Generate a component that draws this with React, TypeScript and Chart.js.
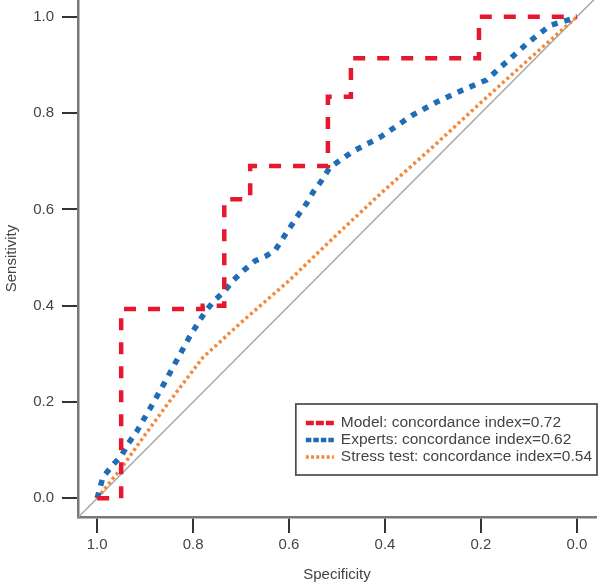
import React, { useEffect, useRef } from 'react';
import { Chart, registerables } from 'chart.js';

Chart.register(...registerables);

// ---- data ----
const tickValues = [0, 0.2, 0.4, 0.6, 0.8, 1.0];

const seriesLabels = [
  'Model: concordance index=0.72',
  'Experts: concordance index=0.62',
  'Stress test: concordance index=0.54',
];

const modelSpec = [1.0, 0.95, 0.95, 0.78, 0.78, 0.735, 0.735, 0.681, 0.681, 0.519, 0.519, 0.471, 0.471, 0.204, 0.204, 0.0];
const modelSens = [0.0, 0.0, 0.393, 0.393, 0.4, 0.4, 0.621, 0.621, 0.69, 0.69, 0.834, 0.834, 0.914, 0.914, 1.0, 1.0];

const expertsSpec = [1.0, 0.988, 0.97, 0.949, 0.935, 0.918, 0.89, 0.86, 0.806, 0.775, 0.758, 0.733, 0.716, 0.695, 0.671, 0.65, 0.629, 0.612, 0.581, 0.563, 0.549, 0.532, 0.515, 0.466, 0.41, 0.344, 0.292, 0.24, 0.188, 0.146, 0.101, 0.056, 0.011, 0.0];
const expertsSens = [0.0, 0.044, 0.066, 0.089, 0.114, 0.138, 0.186, 0.239, 0.338, 0.387, 0.408, 0.432, 0.453, 0.473, 0.493, 0.502, 0.515, 0.541, 0.588, 0.613, 0.637, 0.66, 0.687, 0.721, 0.75, 0.795, 0.823, 0.847, 0.869, 0.907, 0.947, 0.982, 0.996, 1.0];

const stressSpec = [1.0, 0.95, 0.9, 0.85, 0.78, 0.7, 0.6, 0.5, 0.41, 0.3, 0.2, 0.1, 0.0];
const stressSens = [0.0, 0.062, 0.132, 0.2, 0.292, 0.365, 0.452, 0.548, 0.632, 0.73, 0.822, 0.912, 1.0];

const refSpec = [1.04, -0.04];
const refSens = [-0.04, 1.04];

const toPoints = (xs: number[], ys: number[]) => xs.map((x, i) => ({ x, y: ys[i] }));

const FONT = '"Liberation Sans", Arial, Helvetica, sans-serif';
const TEXT = '#444444';

const styles = [
  { color: '#e5182f', width: 4.5, dash: [12, 12], legendDash: [8, 2], legendWidth: 4.5 },
  { color: '#1f6db5', width: 5.5, dash: [6, 7], legendDash: [5.5, 2], legendWidth: 4.5 },
  { color: '#f28a3c', width: 3.5, dash: [3, 3], legendDash: [3, 2.2], legendWidth: 3.5 },
];

const legendPlugin = {
  id: 'rocLegend',
  afterDraw(chart: any) {
    const { ctx, chartArea } = chart;
    ctx.save();
    ctx.font = `15.5px ${FONT}`;
    const maxW = Math.max(...seriesLabels.map((t) => ctx.measureText(t).width));
    const boxW = 10 + 28 + 7 + maxW + 5;
    const boxH = 71;
    const right = chartArea.right + 1;
    const bottom = chartArea.bottom - 42;
    const left = right - boxW;
    const top = bottom - boxH;
    ctx.fillStyle = '#ffffff';
    ctx.fillRect(left, top, boxW, boxH);
    ctx.strokeStyle = '#4a4a4a';
    ctx.lineWidth = 1.7;
    ctx.strokeRect(left, top, boxW, boxH);
    seriesLabels.forEach((label, i) => {
      const y = top + 19 + i * 17;
      const st = styles[i];
      ctx.beginPath();
      ctx.setLineDash(st.legendDash);
      ctx.strokeStyle = st.color;
      ctx.lineWidth = st.legendWidth;
      ctx.moveTo(left + 10, y);
      ctx.lineTo(left + 38, y);
      ctx.stroke();
      ctx.setLineDash([]);
      ctx.fillStyle = TEXT;
      ctx.textAlign = 'left';
      ctx.textBaseline = 'middle';
      ctx.fillText(label, left + 45, y);
    });
    ctx.restore();
  },
};

export default function App() {
  const ref = useRef<HTMLCanvasElement | null>(null);

  useEffect(() => {
    if (!ref.current) return;
    Chart.defaults.font.family = FONT;
    const series = [
      toPoints(modelSpec, modelSens),
      toPoints(expertsSpec, expertsSens),
      toPoints(stressSpec, stressSens),
    ];
    const datasets: any[] = series.map((data, i) => ({
      label: seriesLabels[i],
      data,
      borderColor: styles[i].color,
      backgroundColor: styles[i].color,
      borderWidth: styles[i].width,
      borderDash: styles[i].dash,
      pointRadius: 0,
      tension: 0,
      fill: false,
    }));
    datasets.push({
      label: 'reference',
      data: toPoints(refSpec, refSens),
      borderColor: '#a8a8a8',
      borderWidth: 1.5,
      pointRadius: 0,
      tension: 0,
      fill: false,
    });

    const tickOpts = (padding: number) => ({
      color: TEXT,
      font: { size: 15 },
      padding,
      autoSkip: false,
      maxRotation: 0,
      callback: (v: any) => Number(v).toFixed(1),
    });
    const gridOpts = {
      display: true,
      drawOnChartArea: false,
      drawTicks: true,
      tickLength: 16,
      color: '#333333',
      lineWidth: 2,
    };
    const borderOpts = { display: true, color: '#777777', width: 2.5 };

    const chart = new Chart(ref.current, {
      type: 'line',
      data: { datasets },
      plugins: [legendPlugin],
      options: {
        animation: false,
        responsive: false,
        maintainAspectRatio: false,
        devicePixelRatio: 1,
        layout: { padding: { left: 0, right: 5, top: 0, bottom: 0 } },
        plugins: { legend: { display: false }, tooltip: { enabled: false } },
        scales: {
          x: {
            type: 'linear',
            reverse: true,
            min: -0.04,
            max: 1.04,
            afterBuildTicks: (s: any) => {
              s.ticks = tickValues.map((v) => ({ value: v }));
            },
            afterFit: (s: any) => {
              s.height = 67;
              s.paddingLeft = 0;
              s.paddingRight = 0;
            },
            grid: gridOpts,
            border: borderOpts,
            ticks: tickOpts(3),
            title: { display: true, text: 'Specificity', color: TEXT, font: { size: 15 }, padding: { top: 0, bottom: 0 } },
          },
          y: {
            type: 'linear',
            min: -0.039,
            max: 1.035,
            afterBuildTicks: (s: any) => {
              s.ticks = tickValues.map((v) => ({ value: v }));
            },
            afterFit: (s: any) => {
              s.width = 78;
              s.paddingTop = 0;
              s.paddingBottom = 0;
            },
            grid: gridOpts,
            border: borderOpts,
            ticks: tickOpts(8),
            title: { display: true, text: 'Sensitivity', color: TEXT, font: { size: 15 }, padding: { top: 3, bottom: 0 } },
          },
        },
      } as any,
    });
    return () => chart.destroy();
  }, []);

  return (
    <div style={{ position: 'absolute', left: 0, top: 0, width: 601, height: 584, background: '#fff' }}>
      <canvas ref={ref} width={601} height={584} style={{ display: 'block', width: 601, height: 584 }} />
    </div>
  );
}
